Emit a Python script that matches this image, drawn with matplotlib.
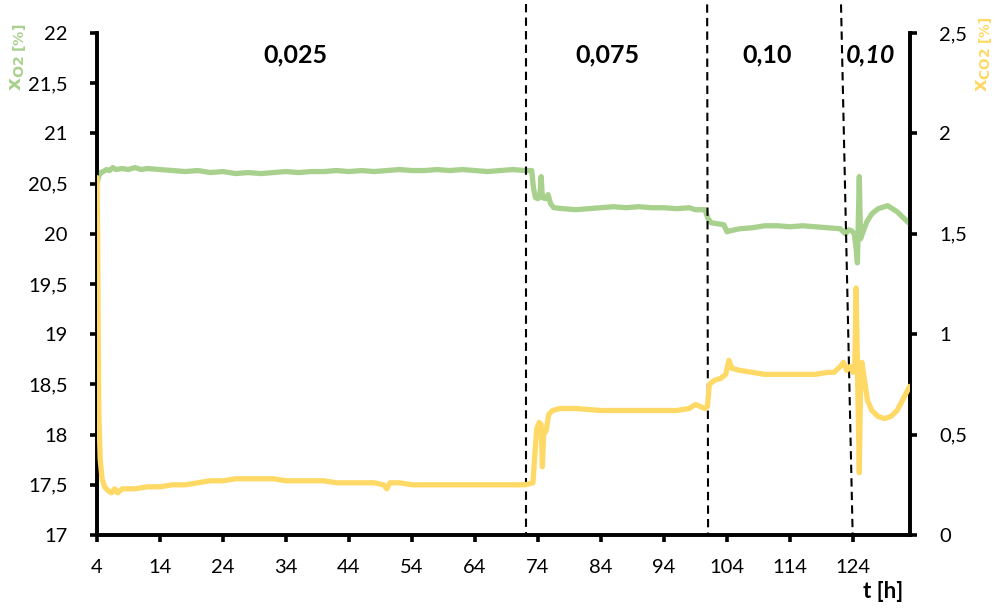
import matplotlib
matplotlib.use("Agg")
import matplotlib.pyplot as plt
from matplotlib.ticker import FuncFormatter, MultipleLocator
import matplotlib.transforms as mtransforms

plt.rcParams['font.family'] = ['Lato', 'DejaVu Sans']

# O2 mole fraction [%] (left axis)
t_o2 = [4.0, 4.3, 4.6, 5.0, 5.5, 6.0, 6.5, 7.0, 8.0, 9.0, 10.0, 11.0, 12.0, 14.0, 16.0, 18.0,
        20.0, 22.0, 24.0, 26.0, 28.0, 30.0, 32.0, 34.0, 36.0, 38.0, 40.0, 42.0, 44.0, 46.0,
        48.0, 50.0, 52.0, 54.0, 56.0, 58.0, 60.0, 62.0, 64.0, 66.0, 68.0, 70.0, 72.0, 73.0,
        73.3, 73.6, 74.0, 74.3, 74.5, 74.7, 75.2, 75.6, 76.0, 76.5, 78.0, 80.0, 82.0, 84.0,
        86.0, 88.0, 90.0, 92.0, 94.0, 96.0, 98.0, 99.0, 100.5, 101.0, 101.5, 102.5, 103.5,
        104.0, 104.5, 106.0, 108.0, 110.0, 112.0, 114.0, 116.0, 118.0, 120.0, 122.0, 122.8,
        123.3, 123.8, 124.2, 124.5, 124.7, 124.9, 125.0, 125.2, 125.6, 126.2, 127.0, 128.0,
        129.0, 129.5, 130.0, 131.0, 132.0, 133.0]
o2 = [20.50, 20.58, 20.61, 20.62, 20.64, 20.63, 20.66, 20.64, 20.65, 20.64, 20.66, 20.64,
      20.65, 20.64, 20.63, 20.62, 20.63, 20.61, 20.62, 20.60, 20.61, 20.60, 20.61, 20.62,
      20.61, 20.62, 20.62, 20.63, 20.62, 20.63, 20.62, 20.63, 20.64, 20.63, 20.63, 20.64,
      20.63, 20.64, 20.63, 20.62, 20.63, 20.64, 20.63, 20.63, 20.45, 20.36, 20.35, 20.38,
      20.57, 20.36, 20.35, 20.39, 20.30, 20.26, 20.25, 20.24, 20.25, 20.26, 20.27, 20.26,
      20.27, 20.26, 20.26, 20.25, 20.26, 20.24, 20.24, 20.15, 20.11, 20.10, 20.09, 20.02,
      20.03, 20.05, 20.06, 20.08, 20.08, 20.07, 20.08, 20.07, 20.06, 20.05, 20.00, 20.04,
      20.03, 20.00, 19.85, 19.71, 20.30, 20.57, 19.95, 20.02, 20.12, 20.20, 20.25, 20.27,
      20.28, 20.26, 20.22, 20.16, 20.10]

# CO2 mole fraction [%] (right axis)
t_co2 = [4.0, 4.1, 4.2, 4.3, 4.5, 4.8, 5.2, 5.8, 6.3, 6.8, 7.3, 8.0, 10.0, 12.0, 14.0, 16.0,
         18.0, 20.0, 22.0, 24.0, 26.0, 28.0, 30.0, 32.0, 34.0, 36.0, 38.0, 40.0, 42.0, 44.0,
         46.0, 48.0, 49.5, 50.0, 50.5, 52.0, 54.0, 56.0, 58.0, 60.0, 62.0, 64.0, 66.0, 68.0,
         70.0, 72.0, 73.2, 73.5, 73.8, 74.2, 74.5, 74.7, 74.9, 75.3, 75.7, 76.3, 77.5, 80.0,
         84.0, 88.0, 92.0, 96.0, 98.0, 99.0, 100.5, 100.9, 101.2, 102.0, 103.0, 103.8, 104.3,
         104.8, 106.0, 108.0, 110.0, 112.0, 114.0, 116.0, 118.0, 120.0, 121.0, 122.0, 122.5,
         123.0, 123.6, 124.0, 124.3, 124.5, 124.7, 125.0, 125.2, 125.4, 125.7, 126.3, 127.0,
         128.0, 129.0, 130.0, 131.0, 132.0, 133.0]
co2 = [1.78, 1.50, 1.00, 0.60, 0.38, 0.28, 0.24, 0.22, 0.21, 0.23, 0.21, 0.23, 0.23, 0.24,
       0.24, 0.25, 0.25, 0.26, 0.27, 0.27, 0.28, 0.28, 0.28, 0.28, 0.27, 0.27, 0.27, 0.27,
       0.26, 0.26, 0.26, 0.26, 0.25, 0.23, 0.26, 0.26, 0.25, 0.25, 0.25, 0.25, 0.25, 0.25,
       0.25, 0.25, 0.25, 0.25, 0.26, 0.40, 0.53, 0.56, 0.55, 0.34, 0.50, 0.52, 0.60, 0.62,
       0.63, 0.63, 0.62, 0.62, 0.62, 0.62, 0.63, 0.65, 0.63, 0.64, 0.75, 0.77, 0.78, 0.80,
       0.87, 0.83, 0.82, 0.81, 0.80, 0.80, 0.80, 0.80, 0.80, 0.81, 0.81, 0.84, 0.86, 0.82,
       0.84, 0.81, 0.85, 1.23, 0.85, 0.31, 0.75, 0.86, 0.80, 0.67, 0.62, 0.59, 0.58, 0.59,
       0.62, 0.68, 0.74]

# Phase boundaries (top x, bottom x) and phase labels
boundaries = [(72.15, 72.15), (100.85, 101.0), (122.1, 123.95)]
phase_labels = ["0,025", "0,075", "0,10", "0,10"]
phase_x = [35.5, 85.0, 110.3, 126.8]

x_ticks = list(range(4, 125, 10))

GREEN = "#A9D18E"
YELLOW = "#FFD966"

fig = plt.figure(figsize=(9.97, 6.08), dpi=100)
ax = fig.add_axes([97 / 997, 73 / 608, 813 / 997, 502 / 608])
ax2 = ax.twinx()

ax.plot(t_o2, o2, color=GREEN, lw=3.8, solid_joinstyle='round', solid_capstyle='round',
        zorder=3)
ax2.plot(t_co2, co2, color=YELLOW, lw=3.8, solid_joinstyle='round', solid_capstyle='round',
         zorder=3)

ax.set_xlim(4, 133.05)
ax.set_ylim(17, 22)
ax2.set_ylim(0, 2.5)
ax.set_xticks(x_ticks)
ax.yaxis.set_major_locator(MultipleLocator(0.5))
ax2.yaxis.set_major_locator(MultipleLocator(0.5))

comma = FuncFormatter(lambda v, p: ('%g' % v).replace('.', ','))
ax.yaxis.set_major_formatter(comma)
ax2.yaxis.set_major_formatter(comma)

for a in (ax, ax2):
    for s in a.spines.values():
        s.set_linewidth(2.6)
    a.spines['top'].set_visible(False)
    a.tick_params(axis='both', direction='out', length=5, width=2.6, labelsize=14.5,
                  colors='black')
ax.tick_params(axis='y', pad=16)
ax2.tick_params(axis='y', pad=16)
ax.tick_params(axis='x', pad=12)

# Dashed phase boundaries extending above the plot area
trans = mtransforms.blended_transform_factory(ax.transData, ax.transAxes)
for xt, xb in boundaries:
    ax.plot([xt, xb], [1.057, 0.0], transform=trans, color='black', lw=1.5,
            ls=(0, (4, 2.5)), clip_on=False, zorder=4)

for i, (lab, xp) in enumerate(zip(phase_labels, phase_x)):
    ax.text(xp, 21.78, lab, ha='center', va='center', fontsize=18, fontweight='bold',
            style='italic' if i == 3 else 'normal', color='black')

fig.text(19 / 997, 1 - 57 / 608, r'$\mathbf{x}_{\mathbf{O2\ [\%]}}$', rotation=90,
         ha='center', va='center', color=GREEN, fontsize=14.5)
fig.text(985 / 997, 1 - 54 / 608, r'$\mathbf{x}_{\mathbf{CO2\ [\%]}}$', rotation=90,
         ha='center', va='center', color=YELLOW, fontsize=14)

fig.text(883 / 997, 1 - 591 / 608, 't [h]', ha='center', va='center', fontsize=16,
         fontweight='bold')

fig.savefig('out.png', dpi=100)
